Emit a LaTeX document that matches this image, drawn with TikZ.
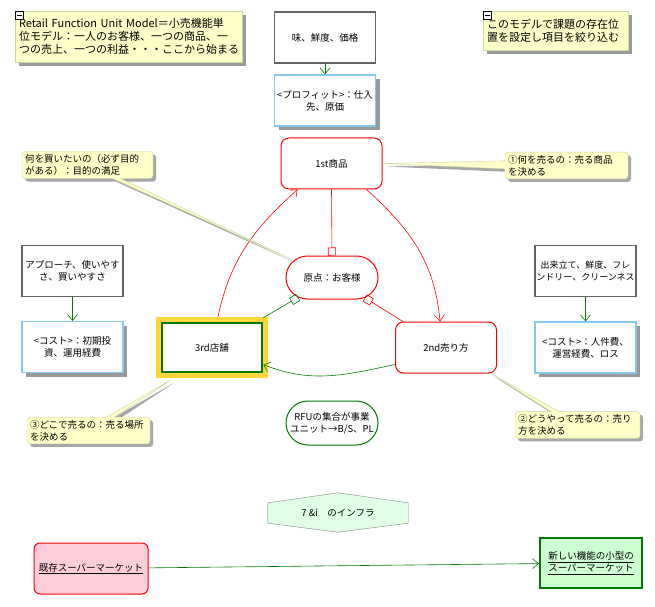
\documentclass[tikz,border=0pt]{standalone}
\usepackage{fontspec}
\setmainfont{Noto Sans CJK JP}
\usetikzlibrary{arrows.meta,shapes.misc,shapes.callouts,shadows,backgrounds}
\definecolor{notefill}{RGB}{255,255,200}
\definecolor{noteline}{RGB}{205,215,160}
\definecolor{boxgray}{RGB}{100,100,100}
\definecolor{skyline}{RGB}{130,200,240}
\definecolor{darkgreen}{RGB}{0,120,0}
\definecolor{haloyellow}{RGB}{255,215,60}
\definecolor{pinkfill}{RGB}{255,205,218}
\definecolor{mintfill}{RGB}{225,255,230}
\definecolor{limefill}{RGB}{205,255,210}

\begin{document}
\begin{tikzpicture}[x=1pt,y=1pt,font=\fontsize{9.5}{12}\selectfont]
		\tikzset{keybox/.style={draw=boxgray,line width=1.5pt,fill=white,minimum width=101pt,minimum height=51pt,text width=99pt,align=center,inner sep=1pt},
			costbox/.style={keybox,draw=skyline,line width=1.2pt,drop shadow={shadow xshift=4pt,shadow yshift=-4pt,fill=black!40,opacity=1}},
			redbox/.style={draw=red,line width=1pt,rounded corners=8pt,fill=white,minimum width=101pt,minimum height=51pt},
			pill/.style={rounded rectangle,draw=#1,line width=1pt,fill=white,minimum width=96pt,minimum height=43pt,align=center,inner sep=2pt},
			note/.style={draw=noteline,fill=notefill,text width=#1,align=left,inner sep=4pt,drop shadow={shadow xshift=4pt,shadow yshift=-4pt,fill=black!40,opacity=1}},
			remark/.style={rectangle callout,draw=noteline,fill=notefill,rounded corners=3pt,callout pointer width=8pt,text width=#1,align=left,inner sep=3pt,drop shadow={shadow xshift=3pt,shadow yshift=-3pt,fill=black!35,opacity=1}},
			fold/.style={draw,fill=white,minimum size=8pt,inner sep=0pt,path picture={\draw ([xshift=1.5pt]path picture bounding box.west) -- ([xshift=-1.5pt]path picture bounding box.east);}},
			flow/.style={-{Straight Barb[length=6pt,width=10pt]},line width=0.6pt},
			root/.style={-{Square[open,length=8pt,width=8pt]},line width=0.6pt}}
		\useasboundingbox (0,0) rectangle (655,606);
		
		\node [note=219pt,font=\fontsize{11}{13}\selectfont,minimum height=51pt] (M1) at (128.5,569.5) {Retail Function Unit Model＝小売機能単\\位モデル：一人のお客様、一つの商品、一\\つの売上、一つの利益・・・ここから始まる};
		\node [fold] (F1) at (19.5,590.5) {};
		\node [note=137pt,font=\fontsize{11}{13}\selectfont,minimum height=39pt] (M2) at (555.5,575.5) {このモデルで課題の存在位\\置を設定し項目を絞り込む};
		\node [fold] (F2) at (487.5,590.5) {};
		
		\node [keybox] (T) at (325,568.5) {味、鮮度、価格};
		\node [costbox] (PF) at (325,505.5) {<プロフィット>：仕入\\先、原価};
		\node [keybox] (A) at (72.5,335) {アプローチ、使いやす\\さ、買いやすさ};
		\node [costbox] (AC) at (72.5,259) {<コスト>：初期投\\資、運用経費};
		\node [keybox,font=\fontsize{9}{12}\selectfont] (D) at (585.5,335) {出来立て、鮮度、フレ\\ンドリー、クリーンネス};
		\node [costbox] (DC) at (585.5,258.5) {<コスト>：人件費、\\運営経費、ロス};
		
		\node [redbox] (P1) at (331.5,442.5) {1st商品};
		\node [redbox] (P2) at (446,258.5) {2nd売り方};
		\node [draw=darkgreen,line width=2.5pt,fill=white,minimum width=100pt,minimum height=49pt,preaction={draw=haloyellow,line width=12pt}] (P3) at (212,258.5) {3rd店舗};
		\node [pill=red] (O) at (332,328.5) {原点：お客様};
		\node [pill=darkgreen,minimum height=44pt] (R) at (332,183) {RFUの集合が事業\\ユニット→B/S、PL};
		
		\draw [flow,darkgreen] (T) -- (PF);
		\draw [flow,darkgreen] (A) -- (AC);
		\draw [flow,darkgreen] (D) -- (DC);
		\draw [flow,red] ([xshift=6pt,yshift=5pt]P3.north) to[out=78,in=222] ([xshift=-34pt]P1.south);
		\draw [flow,red] ([xshift=35pt]P1.south) to[out=-42,in=95] ([xshift=-6pt]P2.north);
		\draw [flow,darkgreen] ([yshift=-17pt]P2.west) to[out=192,in=-22] ([yshift=-17pt]P3.east);
		\draw [root,red] (P1.south) -- (O.north);
		\draw [root,darkgreen] ([yshift=4pt]P3.north east) -- (O);
		\draw [root,red] ([xshift=8pt]P2.north west) -- (O);
		
		\node [remark=117pt,callout absolute pointer={(P1.east)}] (C1) at (566.5,440.5) {①何を売るの：売る商品\\を決める};
		\node [remark=125pt,callout absolute pointer={([xshift=-38pt,yshift=-5pt]O.north)}] (C0) at (87.5,441) {何を買いたいの（必ず目的\\がある）：目的の満足};
		\node [remark=117pt,callout absolute pointer={([xshift=-40pt,yshift=-6pt]P3.south)}] (C3) at (88.5,175.5) {③どこで売るの：売る場所\\を決める};
		\node [remark=119pt,callout absolute pointer={([xshift=-6pt]P2.south east)}] (C2) at (577.5,181) {②どうやって売るの：売り\\方を決める};
		
		\node [minimum width=140pt,minimum height=39pt] (I) at (338,93.5) {7 \&i　のインフラ};
		\begin{scope}[on background layer]
			\filldraw [draw=gray,fill=mintfill] ([yshift=-10pt]I.north west) -- (I.north) -- ([yshift=-10pt]I.north east) -- ([yshift=9pt]I.south east) -- (I.south) -- ([yshift=9pt]I.south west) -- cycle;
		\end{scope}
		
		\node [draw=red,line width=1pt,rounded corners=6pt,fill=pinkfill,minimum width=114pt,minimum height=51pt] (E) at (91,37.5) {\underline{既存スーパーマーケット}};
		\node [draw=darkgreen,line width=2.2pt,fill=limefill,minimum width=102pt,minimum height=50pt,align=center] (N) at (591,43) {\underline{新しい機能の小型の}\\\underline{スーパーマーケット}};
		\draw [flow,darkgreen] (E) -- (N);
		\end{tikzpicture}
\end{document}
